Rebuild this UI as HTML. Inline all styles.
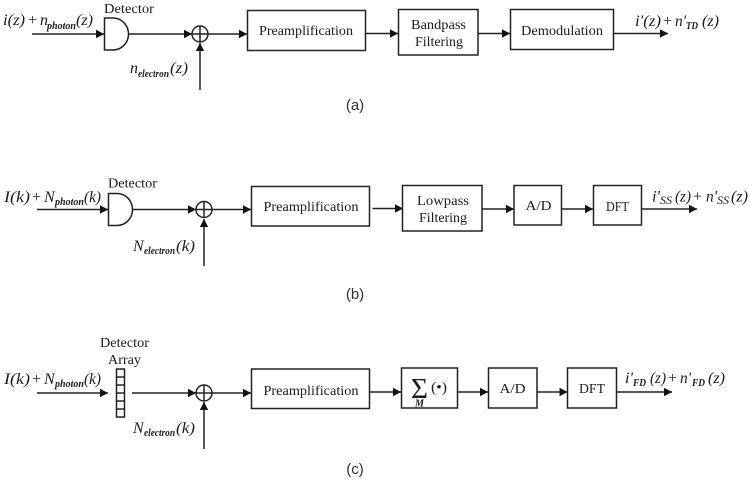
<!DOCTYPE html>
<html><head><meta charset="utf-8"><style>
html,body{margin:0;padding:0;background:#fff;width:750px;height:481px;overflow:hidden}
svg{display:block;filter:blur(0.3px)}
text{font-family:"Liberation Serif",serif;fill:#1c1c1c;font-size:14px}
.m{font-style:italic;font-size:16px}
.s{font-style:italic;font-weight:bold;font-size:10px}
.c{font-family:"Liberation Sans",sans-serif;font-size:15px;fill:#333}
.p{font-size:16px}
.b{fill:#fff;stroke:#222;stroke-width:1.5}
.l{stroke:#222;stroke-width:1.5;fill:none}
.a{fill:#111;stroke:none}
</style></head><body>
<svg width="750" height="481" viewBox="0 0 750 481" xmlns="http://www.w3.org/2000/svg">
<defs><path id="h" d="M-8,-4.200L0,0L-8,4.200Z"/></defs>

<!-- Row a -->
<path class="l" d="M32,34H104M128,34H192M208,34H247M200,90V43M366,33.500H398M478,33.500H510M613,33.500H668"/>
<use href="#h" class="a" x="104" y="34"/><use href="#h" class="a" x="192" y="34"/><use href="#h" class="a" x="247" y="34"/>
<use href="#h" class="a" x="398" y="33.500"/><use href="#h" class="a" x="510" y="33.500"/><use href="#h" class="a" x="668" y="33.500"/>
<use href="#h" class="a" transform="translate(200,43) rotate(-90)"/>
<path class="b" d="M104.500,18H113A15.500,16 0 0 1 113,50H104.500Z"/>
<circle class="l" cx="200" cy="34" r="8"/><path class="l" d="M192,34H208M200,26V42"/>
<rect class="b" x="247.500" y="10.500" width="118" height="40"/>
<rect class="b" x="398.500" y="9.500" width="79.500" height="45.500"/>
<rect class="b" x="510.500" y="9.500" width="103" height="40"/>
<text x="104" y="13" textLength="50" lengthAdjust="spacingAndGlyphs">Detector</text>
<text x="259" y="35" textLength="94" lengthAdjust="spacingAndGlyphs">Preamplification</text>
<text x="411" y="29" textLength="55" lengthAdjust="spacingAndGlyphs">Bandpass</text>
<text x="415" y="46" textLength="48" lengthAdjust="spacingAndGlyphs">Filtering</text>
<text x="521" y="35" textLength="82" lengthAdjust="spacingAndGlyphs">Demodulation</text>
<text class="m" x="3" y="25" textLength="22" lengthAdjust="spacingAndGlyphs">i(z)</text><text class="p" x="28" y="25">+</text><text class="m" x="40" y="25">n</text><text class="s" x="47" y="29" textLength="29" lengthAdjust="spacingAndGlyphs">photon</text><text class="m" x="76" y="25" textLength="17" lengthAdjust="spacingAndGlyphs">(z)</text>
<text class="m" x="130" y="73">n</text><text class="s" x="138" y="77" textLength="31" lengthAdjust="spacingAndGlyphs">electron</text><text class="m" x="170" y="73" textLength="18" lengthAdjust="spacingAndGlyphs">(z)</text>
<text class="m" x="635" y="26" textLength="26" lengthAdjust="spacingAndGlyphs">i'(z)</text><text class="p" x="663" y="26">+</text><text class="m" x="675" y="26" textLength="11" lengthAdjust="spacingAndGlyphs">n'</text><text class="s" x="686" y="29" textLength="12" lengthAdjust="spacingAndGlyphs">TD</text><text class="m" x="702" y="26" textLength="17" lengthAdjust="spacingAndGlyphs">(z)</text>
<text class="c" x="355" y="110" text-anchor="middle">(a)</text>

<!-- Row b -->
<path class="l" d="M37,209.500H108M132,209.500H196M212,209.500H251M204,266V219M372.500,208.500H403M482,209H514M561.500,209H593M641.500,209H697"/>
<use href="#h" class="a" x="108" y="209.500"/><use href="#h" class="a" x="196" y="209.500"/><use href="#h" class="a" x="251" y="209.500"/>
<use href="#h" class="a" x="403" y="208.500"/><use href="#h" class="a" x="514" y="209"/><use href="#h" class="a" x="593" y="209"/><use href="#h" class="a" x="697" y="209"/>
<use href="#h" class="a" transform="translate(204,219) rotate(-90)"/>
<path class="b" d="M108.500,193.500H117A15.500,16 0 0 1 117,225.500H108.500Z"/>
<circle class="l" cx="204" cy="209.500" r="8"/><path class="l" d="M196,209.500H212M204,201.500V217.500"/>
<rect class="b" x="251.500" y="186.500" width="118" height="39.500"/>
<rect class="b" x="402.500" y="185.500" width="79.500" height="45.500"/>
<rect class="b" x="514" y="185.500" width="47.500" height="39.500"/>
<rect class="b" x="593.500" y="185.500" width="48" height="39.500"/>
<text x="108" y="187.500" textLength="49" lengthAdjust="spacingAndGlyphs">Detector</text>
<text x="263.500" y="211" textLength="95" lengthAdjust="spacingAndGlyphs">Preamplification</text>
<text x="417" y="205" textLength="52" lengthAdjust="spacingAndGlyphs">Lowpass</text>
<text x="419" y="222" textLength="48" lengthAdjust="spacingAndGlyphs">Filtering</text>
<text x="525.500" y="210" textLength="26" lengthAdjust="spacingAndGlyphs">A/D</text>
<text x="606" y="211" textLength="23" lengthAdjust="spacingAndGlyphs">DFT</text>
<text class="m" x="4" y="202" textLength="26" lengthAdjust="spacingAndGlyphs">I(k)</text><text class="p" x="32" y="202">+</text><text class="m" x="44" y="202">N</text><text class="s" x="55" y="205" textLength="29" lengthAdjust="spacingAndGlyphs">photon</text><text class="m" x="84" y="202" textLength="17" lengthAdjust="spacingAndGlyphs">(k)</text>
<text class="m" x="133" y="251">N</text><text class="s" x="144" y="254" textLength="31" lengthAdjust="spacingAndGlyphs">electron</text><text class="m" x="176" y="251" textLength="19" lengthAdjust="spacingAndGlyphs">(k)</text>
<text class="m" x="652" y="201.500" textLength="8" lengthAdjust="spacingAndGlyphs">i'</text><text class="s" x="660" y="204" textLength="12" style="font-weight:normal;font-size:12px" lengthAdjust="spacingAndGlyphs">SS</text><text class="m" x="675" y="201.500" textLength="16" lengthAdjust="spacingAndGlyphs">(z)</text><text class="p" x="693" y="201.500">+</text><text class="m" x="706" y="201.500" textLength="11" lengthAdjust="spacingAndGlyphs">n'</text><text class="s" x="717" y="204" textLength="12" style="font-weight:normal;font-size:12px" lengthAdjust="spacingAndGlyphs">SS</text><text class="m" x="731" y="201.500" textLength="17" lengthAdjust="spacingAndGlyphs">(z)</text>
<text class="c" x="355" y="299" text-anchor="middle">(b)</text>

<!-- Row c -->
<path class="l" d="M37,393H108M132,393H196M212,393H251M204,449V402M369,392H401M457.500,392H488M537,392H567.500M616.500,392H672"/>
<use href="#h" class="a" x="108" y="393"/><use href="#h" class="a" x="196" y="393"/><use href="#h" class="a" x="251" y="393"/>
<use href="#h" class="a" x="401" y="392"/><use href="#h" class="a" x="488" y="392"/><use href="#h" class="a" x="567.500" y="392"/><use href="#h" class="a" x="672" y="392"/>
<use href="#h" class="a" transform="translate(204,402) rotate(-90)"/>
<rect class="b" x="116.500" y="369" width="8" height="48"/>
<path class="l" d="M116.500,377H124.500M116.500,385H124.500M116.500,393H124.500M116.500,401H124.500M116.500,409H124.500"/>
<circle class="l" cx="204" cy="393" r="8"/><path class="l" d="M196,393H212M204,385V401"/>
<rect class="b" x="251.500" y="369" width="118" height="39.500"/>
<rect class="b" x="401.500" y="368" width="56" height="40"/>
<rect class="b" x="488.500" y="368" width="48.500" height="40"/>
<rect class="b" x="567.500" y="368" width="49" height="40"/>
<text x="100" y="347" textLength="49" lengthAdjust="spacingAndGlyphs">Detector</text>
<text x="108" y="364" textLength="33" lengthAdjust="spacingAndGlyphs">Array</text>
<text x="263.500" y="395" textLength="95" lengthAdjust="spacingAndGlyphs">Preamplification</text>
<text x="411" y="398" textLength="17" lengthAdjust="spacingAndGlyphs" style="font-size:28px">Σ</text>
<text class="s" x="415" y="406.500" textLength="9" lengthAdjust="spacingAndGlyphs">M</text>
<text x="431" y="392" textLength="16" lengthAdjust="spacingAndGlyphs" style="font-size:15px">(•)</text>
<text x="499.500" y="393" textLength="26" lengthAdjust="spacingAndGlyphs">A/D</text>
<text x="579" y="393" textLength="26" lengthAdjust="spacingAndGlyphs">DFT</text>
<text class="m" x="4" y="384" textLength="26" lengthAdjust="spacingAndGlyphs">I(k)</text><text class="p" x="32" y="384">+</text><text class="m" x="44" y="384">N</text><text class="s" x="55" y="387" textLength="29" lengthAdjust="spacingAndGlyphs">photon</text><text class="m" x="84" y="384" textLength="17" lengthAdjust="spacingAndGlyphs">(k)</text>
<text class="m" x="133" y="433">N</text><text class="s" x="144" y="436" textLength="31" lengthAdjust="spacingAndGlyphs">electron</text><text class="m" x="176" y="433" textLength="19" lengthAdjust="spacingAndGlyphs">(k)</text>
<text class="m" x="625" y="383" textLength="8" lengthAdjust="spacingAndGlyphs">i'</text><text class="s" x="633" y="386" textLength="13" lengthAdjust="spacingAndGlyphs">FD</text><text class="m" x="650" y="383" textLength="16" lengthAdjust="spacingAndGlyphs">(z)</text><text class="p" x="668" y="383">+</text><text class="m" x="680" y="383" textLength="11" lengthAdjust="spacingAndGlyphs">n'</text><text class="s" x="692" y="386" textLength="13" lengthAdjust="spacingAndGlyphs">FD</text><text class="m" x="708" y="383" textLength="17" lengthAdjust="spacingAndGlyphs">(z)</text>
<text class="c" x="355" y="474" text-anchor="middle">(c)</text>
</svg>
</body></html>
